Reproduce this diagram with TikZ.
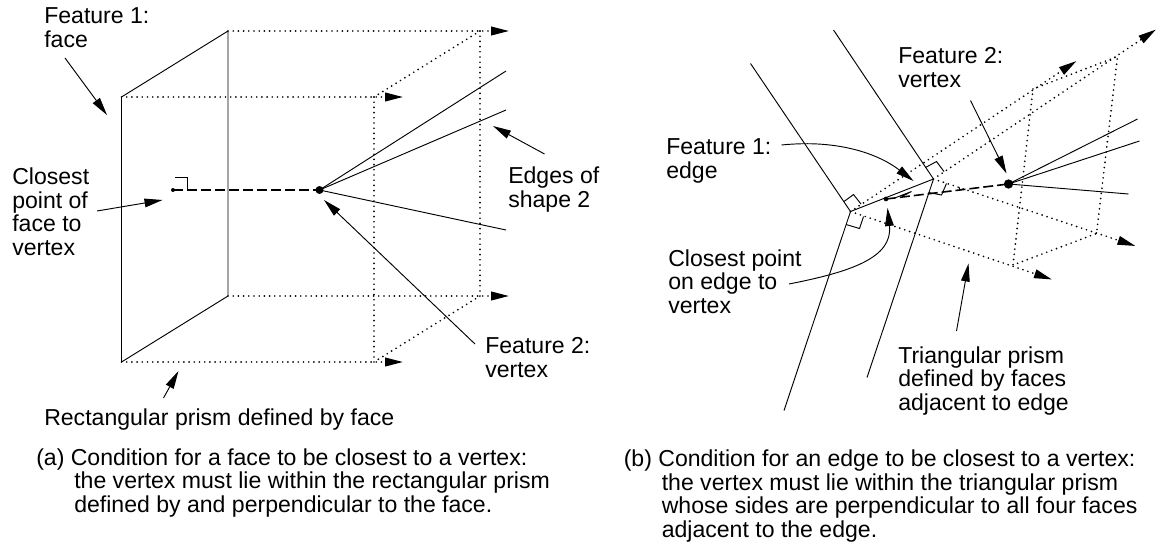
\documentclass[tikz,border=0pt]{standalone}
\usepackage{fontspec}
\setmainfont{Liberation Sans}
\usetikzlibrary{arrows.meta, calc}
\newcommand{\capindent}{\hspace*{28.5pt}}
\tikzset{
  shape line/.style={line width=0.7pt, black},
  dotted ray/.style={line width=1.4pt, line cap=round, dash pattern=on 0pt off 3.9pt, black},
  dotted tip/.style={-{Stealth[inset=0pt, length=13.5pt, width=6.5pt]}},
  dashed join/.style={line width=1.2pt, dash pattern=on 7.5pt off 3pt},
  leader/.style={line width=0.7pt, -{Stealth[inset=0pt, length=13.5pt, width=6.5pt]}},
  square mark/.style={line width=0.7pt},
  vertex dot/.style={circle, fill=black, inner sep=0pt, minimum size=#1},
  label text/.style={anchor=base west, align=left, inner sep=0pt, font=\fontsize{17.3}{17.6}\selectfont}
}

\begin{document}
\begin{tikzpicture}[x=0.75pt, y=-0.75pt]
  \useasboundingbox (0,0) rectangle (1156,543);

  % --- Rectangular prism (a) ---
  \coordinate (F-tl) at (121.5,97);
  \coordinate (F-tr) at (228,31);
  \coordinate (F-br) at (228,296);
  \coordinate (F-bl) at (121.5,362);
  \coordinate (P-tl) at (374,97);
  \coordinate (P-tr) at (480,31);
  \coordinate (P-br) at (480,296);
  \coordinate (P-bl) at (374,362);
  \node[vertex dot=6pt] (V) at (319.5,190) {};
  \node[vertex dot=3pt] (C) at (173,190) {};

  % Face
  \draw[shape line] (F-tl) -- (F-tr) -- (F-br) -- (F-bl) -- cycle;

  % Rays and prism cross-section
  \foreach \from/\to in {F-tr/509,F-br/509,F-tl/403,F-bl/403} {
    \coordinate (tip-\from) at (\to,0 |- \from);
    \draw[dotted ray, dotted tip] (\from) -- (tip-\from);
  }
  \draw[dotted ray] (P-tl) -- (P-bl);
  \draw[dotted ray] (P-tr) -- (P-br);
  \draw[dotted ray] (P-tl) -- (P-tr);
  \draw[dotted ray] (P-bl) -- (P-br);

  % Edges of shape 2
  \foreach \y/\idx in {71/1, 110/2, 230/3} {
    \coordinate (E-\idx) at (506,\y);
    \draw[shape line] (V.center) -- (E-\idx);
  }
  \draw[dashed join] (C.center) -- (V.center);
  \draw[square mark] (175,177) -- (187.5,177) -- (187.5,190);

  % Labels
  \node[label text] (feat1a) at (44,47) {Feature 1:\\face};
  \node[label text] (closesta) at (12,255) {Closest\\point of\\face to\\vertex};
  \node[label text] (edgesa) at (508,207) {Edges of\\shape 2};
  \node[label text] (feat2a) at (485,377) {Feature 2:\\vertex};
  \node[label text] (prisma) at (44,425) {Rectangular prism defined by face};
  \node[label text] (capa) at (36,512) {(a) Condition for a face to be closest to a vertex:\\
    \capindent the vertex must lie within the rectangular prism\\
    \capindent defined by and perpendicular to the face.};

  % Leaders
  \foreach \name/\sx/\sy/\tx/\ty in {a1/65/58/107/115, a2/97/211/162.5/200, a3/544.5/154/493/126,
      a4/475/344/324/200, a5/163.5/398/178.5/371} {
    \coordinate (\name-s) at (\sx,\sy);
    \coordinate (\name-t) at (\tx,\ty);
    \draw[leader] (\name-s) -- (\name-t);
  }

  % --- Triangular prism (b) ---
  \coordinate (A) at (850.5,211.5);
  \coordinate (B) at (933.5,179);
  \coordinate (A-up) at (750.5,63.5);
  \coordinate (B-up) at (833.5,30);
  \coordinate (A-down) at (784,410.5);
  \coordinate (B-down) at (867,377.5);
  \coordinate (A-r1) at (1076.5,61);
  \coordinate (B-r1) at (1156,29.5);
  \coordinate (A-r2) at (1052,279.5);
  \coordinate (B-r2) at (1135.5,246);
  \coordinate (T-1) at (1033,89);
  \coordinate (T-2) at (1013,265);
  \coordinate (T-3) at (1096.5,233.5);
  \coordinate (T-4) at (1117.5,56.5);
  \node[vertex dot=7pt] (W) at (1008.5,184) {};
  \node[vertex dot=3.5pt] (D) at (886,199) {};

  % Edge and the faces next to it
  \draw[shape line] (A) -- (B);
  \draw[shape line] (A) -- (A-up);
  \draw[shape line] (B) -- (B-up);
  \draw[shape line] (A) -- (A-down);
  \draw[shape line] (B) -- (B-down);

  % Rays and prism cross-section
  \foreach \from/\to in {A/A-r1, B/B-r1, A/A-r2, B/B-r2} {
    \draw[dotted ray, dotted tip] (\from) -- (\to);
  }
  \draw[dotted ray] (T-1) -- (T-2) -- (T-3) -- (T-4) -- (T-1);

  % Edges of shape 2
  \foreach \x/\y/\idx in {1137.5/119/1, 1139.5/141/2, 1128.5/194/3} {
    \coordinate (G-\idx) at (\x,\y);
    \draw[shape line] (W.center) -- (G-\idx);
  }
  \draw[dashed join] (D.center) -- (W.center);

  % Right angle marks
  \draw[square mark] (844,201.5) -- (853.5,194.5) -- (861,204);
  \draw[square mark] (846,224.5) -- (859.5,228.5) -- (863.5,216.5);
  \draw[square mark] (925.5,167.5) -- (936.5,161.5) -- (944,171.5);
  \draw[square mark] (928.5,192.5) -- (941.5,195) -- (946.5,183.5);
  \draw[square mark] (896,197.5) -- (911.5,191.5) -- (902,196.5);
  \draw[square mark] (959,187) -- (960,190.5);

  % Labels
  \node[label text] (feat2b) at (898,87) {Feature 2:\\vertex};
  \node[label text] (feat1b) at (666,178) {Feature 1:\\edge};
  \node[label text] (closestb) at (668,313) {Closest point\\on edge to\\vertex};
  \node[label text] (prismb) at (898,410) {Triangular prism\\defined by faces\\adjacent to edge};
  \node[label text] (capb) at (623.5,537) {(b) Condition for an edge to be closest to a vertex:\\
    \capindent the vertex must lie within the triangular prism\\
    \capindent whose sides are perpendicular to all four faces\\
    \capindent adjacent to the edge.};

  % Leaders
  \coordinate (b1-s) at (781.5,145);
  \coordinate (b1-t) at (913.5,181);
  \coordinate (b2-s) at (789,284);
  \coordinate (b2-t) at (887.5,208);
  \coordinate (b3-s) at (970.5,100.5);
  \coordinate (b3-t) at (1006.5,173.5);
  \coordinate (b4-s) at (956.5,331);
  \coordinate (b4-t) at (968.5,263.5);
  \draw[leader] (b1-s) .. controls (840,139) and (880,155) .. (b1-t);
  \draw[leader] (b2-s) .. controls (850,272) and (893,258) .. (b2-t);
  \draw[leader] (b3-s) -- (b3-t);
  \draw[leader] (b4-s) -- (b4-t);
\end{tikzpicture}
\end{document}
